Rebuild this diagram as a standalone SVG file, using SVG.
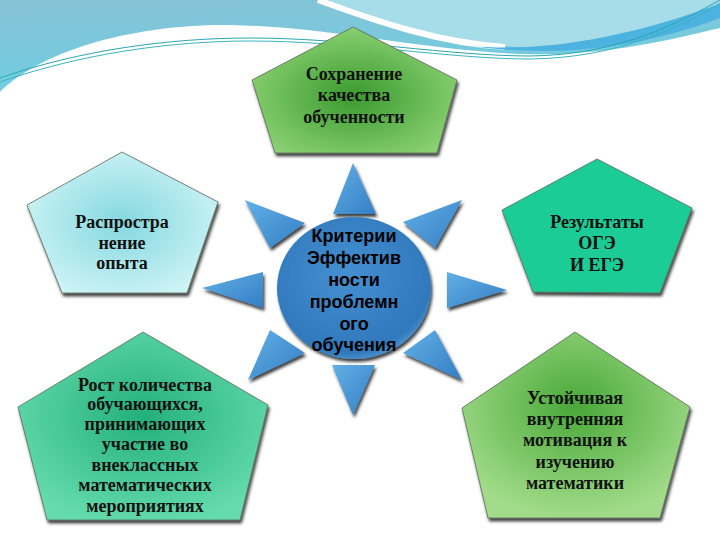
<svg xmlns="http://www.w3.org/2000/svg" width="720" height="540" viewBox="0 0 720 540">
<defs>
<linearGradient id="bgBlue" x1="0" y1="0" x2="0.3" y2="1">
<stop offset="0" stop-color="#88c2d6"/><stop offset="1" stop-color="#6ccfe2"/>
</linearGradient>
<radialGradient id="gTop" cx="0.5" cy="0.55" r="0.6">
<stop offset="0" stop-color="#3a9a2e"/><stop offset="1" stop-color="#8fd477"/>
</radialGradient>
<radialGradient id="gLeft" cx="0.5" cy="0.5" r="0.6">
<stop offset="0" stop-color="#84d8df"/><stop offset="1" stop-color="#d2f5f7"/>
</radialGradient>
<radialGradient id="gBL" cx="0.5" cy="0.45" r="0.6">
<stop offset="0" stop-color="#22b07a"/><stop offset="1" stop-color="#66dcae"/>
</radialGradient>
<radialGradient id="gBR" cx="0.5" cy="0.4" r="0.6">
<stop offset="0" stop-color="#48a838"/><stop offset="1" stop-color="#a2dc8a"/>
</radialGradient>
<radialGradient id="gC" cx="0.45" cy="0.4" r="0.65">
<stop offset="0" stop-color="#4690d0"/><stop offset="0.85" stop-color="#2f78bc"/><stop offset="1" stop-color="#5a9ed6"/>
</radialGradient>
<linearGradient id="gRay" x1="0" y1="0" x2="1" y2="1">
<stop offset="0" stop-color="#62b0e6"/><stop offset="1" stop-color="#347ec4"/>
</linearGradient>
<filter id="sh" x="-20%" y="-20%" width="140%" height="140%">
<feDropShadow dx="1.5" dy="3" stdDeviation="1.5" flood-color="#000" flood-opacity="0.75"/>
</filter>
</defs>
<style>
.pent{stroke:#5a6a5a;stroke-width:0.8;filter:url(#sh)}
.ray{fill:url(#gRay);filter:url(#sh)}
.t{font-family:"Liberation Serif","Times New Roman",serif;font-weight:bold;font-size:18px;fill:#111;text-anchor:middle}
.c{font-family:"Liberation Sans",Arial,sans-serif;font-weight:bold;font-size:18px;fill:#000;text-anchor:middle}
</style>
<rect width="720" height="540" fill="#fdfdfd"/>
<g id="background">
<rect width="720" height="95" fill="url(#bgBlue)"/>
<path d="M320,0 C380,22 450,44 520,47 C600,50 680,22 720,2 L720,0 Z" fill="#a6dde8"/>
<path d="M318,0 C378,22 440,43 505,47" fill="none" stroke="#ffffff" stroke-width="6"/>
<path d="M470,46 C540,52 620,40 720,4 L720,18 C640,48 560,58 470,46 Z" fill="#4cb2e0"/>
<path d="M0,92 C40,52 130,24 230,25 C330,27 420,50 520,54 C600,57 670,40 720,28 L720,540 L0,540 Z" fill="#ffffff"/>
<path d="M0,78 C80,50 170,38 250,38 C350,38 450,56 530,56 C620,55 680,22 720,0" fill="none" stroke="#2aa6b4" stroke-width="1"/>
<path d="M0,82 C80,54 170,41 250,41 C350,41 450,59 530,59 C620,58 680,26 720,4" fill="none" stroke="#3ab4c0" stroke-width="1"/>
</g>
<g id="rays">
<polygon class="ray" points="353,163 376,214 333,214"/>
<polygon class="ray" points="332,365 375,365 353,415"/>
<polygon class="ray" points="202,288 263,272 263,308"/>
<polygon class="ray" points="507,290 447,272 447,308"/>
<polygon class="ray" points="245,200 305,223 270,248"/>
<polygon class="ray" points="462,200 403,222 435,248"/>
<polygon class="ray" points="248,380 270,330 305,353"/>
<polygon class="ray" points="462,380 403,353 435,330"/>
</g>
<g id="center">
<ellipse cx="354" cy="288" rx="77" ry="71" fill="url(#gC)" filter="url(#sh)"/>
<text class="c"><tspan x="354" y="242">Критерии</tspan><tspan x="354" y="264">Эффектив</tspan><tspan x="354" y="286">ности</tspan><tspan x="354" y="308">проблемн</tspan><tspan x="354" y="330">ого</tspan><tspan x="354" y="351">обучения</tspan></text>
</g>
<g id="node-top">
<polygon class="pent" points="353,27 457,80 437,153 275,153 252,80" fill="url(#gTop)"/>
<text class="t"><tspan x="354" y="80">Сохранение</tspan><tspan x="354" y="101">качества</tspan><tspan x="354" y="123">обученности</tspan></text>
</g>
<g id="node-left">
<polygon class="pent" points="122,152 218,202 187,293 62,293 27,205" fill="url(#gLeft)"/>
<text class="t"><tspan x="122" y="228">Распростра</tspan><tspan x="122" y="249">нение</tspan><tspan x="122" y="269">опыта</tspan></text>
</g>
<g id="node-right">
<polygon class="pent" points="597,159 692,208 660,293 533,292 502,210" fill="#1dcc96"/>
<text class="t"><tspan x="597" y="228">Результаты</tspan><tspan x="597" y="249">ОГЭ</tspan><tspan x="597" y="271">И ЕГЭ</tspan></text>
</g>
<g id="node-bottom-left">
<polygon class="pent" points="143,332 268,405 240,520 47,520 18,407" fill="url(#gBL)"/>
<text class="t"><tspan x="145" y="391">Рост количества</tspan><tspan x="145" y="410">обучающихся,</tspan><tspan x="145" y="430">принимающих</tspan><tspan x="145" y="450">участие во</tspan><tspan x="145" y="471">внеклассных</tspan><tspan x="145" y="491">математических</tspan><tspan x="145" y="512">мероприятиях</tspan></text>
</g>
<g id="node-bottom-right">
<polygon class="pent" points="575,332 690,407 660,518 488,518 462,408" fill="url(#gBR)"/>
<text class="t"><tspan x="575" y="404">Устойчивая</tspan><tspan x="575" y="425">внутренняя</tspan><tspan x="575" y="446">мотивация к</tspan><tspan x="575" y="468">изучению</tspan><tspan x="575" y="489">математики</tspan></text>
</g>
</svg>
